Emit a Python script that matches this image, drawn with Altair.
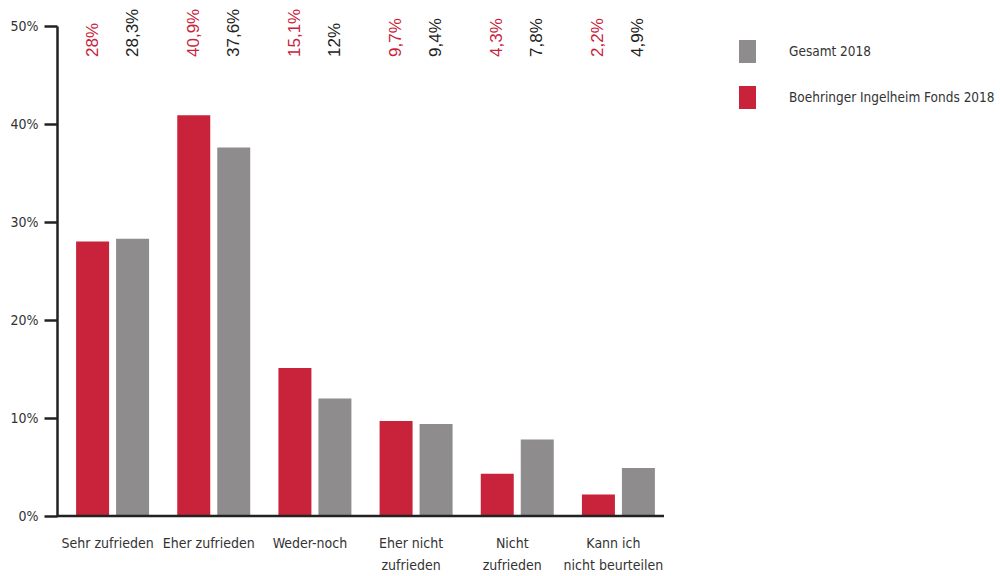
import altair as alt
import pandas as pd

# Survey answers (percent), grouped by answer category
categories = [
    "Sehr zufrieden",
    "Eher zufrieden",
    "Weder-noch",
    "Eher nicht\nzufrieden",
    "Nicht\nzufrieden",
    "Kann ich\nnicht beurteilen",
]
series = ["Boehringer Ingelheim Fonds 2018", "Gesamt 2018"]
bi_fonds = [28.0, 40.9, 15.1, 9.7, 4.3, 2.2]
gesamt = [28.3, 37.6, 12.0, 9.4, 7.8, 4.9]

RED = "#C8233A"
GRAY = "#8E8C8D"
DARK = "#222222"
NARROW = "DejaVu Sans Condensed"
REGULAR = "Liberation Sans"

rows = []
for cat, a, b in zip(categories, bi_fonds, gesamt):
    rows.append({"Kategorie": cat, "Gruppe": series[0], "Wert": a, "Textfarbe": RED})
    rows.append({"Kategorie": cat, "Gruppe": series[1], "Wert": b, "Textfarbe": DARK})
df = pd.DataFrame(rows)

W, H = 607, 490

x_enc = alt.X(
    "Kategorie:N",
    sort=categories,
    scale=alt.Scale(range=[5, 612], paddingInner=0, paddingOuter=0),
    axis=alt.Axis(
        title=None,
        domain=False,
        ticks=False,
        labelAngle=0,
        labelExpr="split(datum.label, '\\n')",
        labelOffset=-5,
        labelPadding=20,
        labelFont=NARROW,
        labelFontSize=14,
        labelColor="#333333",
        labelLineHeight=22,
    ),
)
xoff_enc = alt.XOffset(
    "Gruppe:N",
    sort=series,
    scale=alt.Scale(paddingInner=0.175, paddingOuter=0.3525),
)

bars = alt.Chart(df).mark_bar().encode(
    x=x_enc,
    xOffset=xoff_enc,
    y=alt.Y(
        "Wert:Q",
        scale=alt.Scale(domain=[0, 50], nice=False),
        axis=alt.Axis(
            title=None,
            values=[0, 10, 20, 30, 40, 50],
            labelExpr="datum.value + '%'",
            grid=False,
            tickSize=13,
            tickWidth=2.5,
            tickColor=DARK,
            domainWidth=2.5,
            domainColor=DARK,
            labelPadding=6,
            labelFont=NARROW,
            labelFontSize=14,
            labelColor="#333333",
        ),
    ),
    color=alt.Color(
        "Gruppe:N",
        scale=alt.Scale(domain=["Gesamt 2018", "Boehringer Ingelheim Fonds 2018"], range=[GRAY, RED]),
        legend=alt.Legend(
            title=None,
            orient="none",
            legendX=679,
            legendY=14,
            symbolType="M-0.74,-1H0.74V1H-0.74Z",
            symbolSize=529,
            symbolStrokeWidth=0,
            labelFont=NARROW,
            labelFontSize=13.5,
            labelColor="#333333",
            labelLimit=0,
            labelOffset=30,
            rowPadding=23,
            padding=0,
        ),
    ),
)

labels = alt.Chart(df).transform_calculate(
    Label="replace(format(datum.Wert, '.1~f'), '.', ',') + '%'"
).mark_text(
    angle=270,
    align="left",
    baseline="middle",
    font=REGULAR,
    fontSize=17,
).encode(
    x=x_enc,
    xOffset=xoff_enc,
    y=alt.value(31),
    text="Label:N",
    color=alt.Color("Textfarbe:N", scale=None),
)

baseline = alt.Chart(pd.DataFrame({"k": [0]})).mark_rule(color=DARK, strokeWidth=2.5).encode(
    x=alt.value(0), x2=alt.value(W), y=alt.value(H)
)

chart = alt.layer(bars, labels, baseline).properties(
    width=W,
    height=H,
    background="white",
    autosize=alt.AutoSizeParams(type="none"),
    padding={"left": 57, "top": 26, "right": 336, "bottom": 60},
).configure_view(stroke="transparent", strokeWidth=0)

chart.save("out.html", embed_options={"renderer": "svg", "actions": False})
